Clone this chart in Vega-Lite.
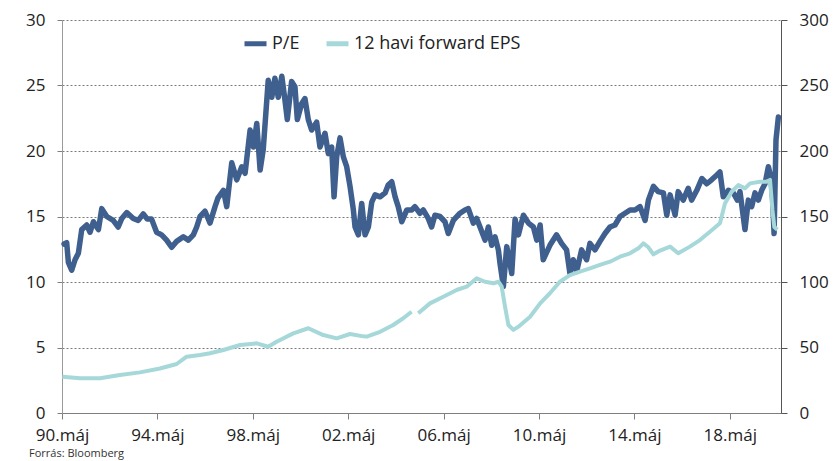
{
  "$schema": "https://vega.github.io/schema/vega-lite/v6.json",
  "autosize": "none",
  "width": 719,
  "height": 393,
  "padding": {"left": 62, "top": 20, "right": 55, "bottom": 48},
  "background": "white",
  "config": {
    "view": {"stroke": null},
    "font": "Open Sans",
    "axis": {"labelFont": "Open Sans", "labelFontSize": 17, "labelColor": "#222", "titleFont": "Open Sans"},
    "legend": {"labelFont": "Open Sans"}
  },
  "title": {
    "text": "Forrás: Bloomberg",
    "orient": "bottom",
    "anchor": "start",
    "frame": "group",
    "dx": -33,
    "offset": 5,
    "fontSize": 11,
    "fontWeight": "normal",
    "color": "#333",
    "font": "Open Sans"
  },
  "datasets": {
    "pe": [
      {"year": 1990.42, "pe": 12.9}, {"year": 1990.53, "pe": 13.0}, {"year": 1990.60, "pe": 11.5}, {"year": 1990.74, "pe": 10.9},
      {"year": 1990.88, "pe": 11.7}, {"year": 1991.02, "pe": 12.2}, {"year": 1991.16, "pe": 14.0}, {"year": 1991.37, "pe": 14.35},
      {"year": 1991.51, "pe": 13.8}, {"year": 1991.65, "pe": 14.6}, {"year": 1991.86, "pe": 14.0}, {"year": 1992.00, "pe": 15.6},
      {"year": 1992.21, "pe": 15.0}, {"year": 1992.48, "pe": 14.7}, {"year": 1992.69, "pe": 14.2}, {"year": 1992.84, "pe": 14.85},
      {"year": 1993.05, "pe": 15.3}, {"year": 1993.32, "pe": 14.85}, {"year": 1993.53, "pe": 14.7}, {"year": 1993.74, "pe": 15.2},
      {"year": 1993.91, "pe": 14.8}, {"year": 1994.09, "pe": 14.8}, {"year": 1994.30, "pe": 13.8}, {"year": 1994.51, "pe": 13.6},
      {"year": 1994.72, "pe": 13.2}, {"year": 1994.93, "pe": 12.65}, {"year": 1995.14, "pe": 13.1}, {"year": 1995.42, "pe": 13.45},
      {"year": 1995.63, "pe": 13.2}, {"year": 1995.84, "pe": 13.6}, {"year": 1995.98, "pe": 14.2}, {"year": 1996.12, "pe": 15.0},
      {"year": 1996.33, "pe": 15.4}, {"year": 1996.54, "pe": 14.5}, {"year": 1996.75, "pe": 15.75}, {"year": 1996.87, "pe": 16.4},
      {"year": 1997.10, "pe": 17.0}, {"year": 1997.24, "pe": 15.75}, {"year": 1997.45, "pe": 19.1}, {"year": 1997.66, "pe": 17.8},
      {"year": 1997.87, "pe": 18.8}, {"year": 1998.01, "pe": 18.3}, {"year": 1998.22, "pe": 21.6}, {"year": 1998.36, "pe": 20.3},
      {"year": 1998.50, "pe": 22.1}, {"year": 1998.64, "pe": 18.55}, {"year": 1998.77, "pe": 20.1}, {"year": 1998.98, "pe": 25.4},
      {"year": 1999.13, "pe": 24.1}, {"year": 1999.26, "pe": 25.55}, {"year": 1999.40, "pe": 24.1}, {"year": 1999.55, "pe": 25.7},
      {"year": 1999.68, "pe": 23.9}, {"year": 1999.78, "pe": 22.4}, {"year": 1999.96, "pe": 25.3}, {"year": 2000.10, "pe": 24.9},
      {"year": 2000.20, "pe": 22.4}, {"year": 2000.38, "pe": 23.6}, {"year": 2000.52, "pe": 24.0}, {"year": 2000.66, "pe": 22.4},
      {"year": 2000.80, "pe": 21.6}, {"year": 2001.01, "pe": 22.2}, {"year": 2001.15, "pe": 20.3}, {"year": 2001.36, "pe": 21.35},
      {"year": 2001.50, "pe": 19.8}, {"year": 2001.64, "pe": 20.3}, {"year": 2001.74, "pe": 16.5}, {"year": 2001.85, "pe": 19.55},
      {"year": 2001.99, "pe": 21.0}, {"year": 2002.13, "pe": 19.55}, {"year": 2002.27, "pe": 18.8}, {"year": 2002.41, "pe": 17.3},
      {"year": 2002.55, "pe": 15.5}, {"year": 2002.62, "pe": 14.2}, {"year": 2002.76, "pe": 13.6}, {"year": 2002.90, "pe": 16.0},
      {"year": 2003.04, "pe": 13.6}, {"year": 2003.18, "pe": 14.2}, {"year": 2003.32, "pe": 16.1}, {"year": 2003.46, "pe": 16.65},
      {"year": 2003.67, "pe": 16.5}, {"year": 2003.88, "pe": 16.8}, {"year": 2004.01, "pe": 17.4}, {"year": 2004.16, "pe": 17.65},
      {"year": 2004.30, "pe": 16.5}, {"year": 2004.43, "pe": 15.75}, {"year": 2004.58, "pe": 14.6}, {"year": 2004.79, "pe": 15.5},
      {"year": 2005.00, "pe": 15.5}, {"year": 2005.13, "pe": 15.75}, {"year": 2005.34, "pe": 15.25}, {"year": 2005.48, "pe": 15.5},
      {"year": 2005.69, "pe": 14.85}, {"year": 2005.83, "pe": 14.2}, {"year": 2005.97, "pe": 15.1}, {"year": 2006.18, "pe": 15.0},
      {"year": 2006.39, "pe": 14.6}, {"year": 2006.53, "pe": 13.7}, {"year": 2006.74, "pe": 14.7}, {"year": 2007.02, "pe": 15.25},
      {"year": 2007.23, "pe": 15.5}, {"year": 2007.37, "pe": 15.6}, {"year": 2007.58, "pe": 14.5}, {"year": 2007.72, "pe": 14.85},
      {"year": 2007.86, "pe": 14.2}, {"year": 2008.07, "pe": 13.2}, {"year": 2008.21, "pe": 14.2}, {"year": 2008.35, "pe": 12.8},
      {"year": 2008.49, "pe": 13.45}, {"year": 2008.63, "pe": 12.45}, {"year": 2008.70, "pe": 11.4}, {"year": 2008.84, "pe": 9.65},
      {"year": 2008.98, "pe": 12.7}, {"year": 2009.09, "pe": 11.7}, {"year": 2009.19, "pe": 10.65}, {"year": 2009.33, "pe": 14.8},
      {"year": 2009.47, "pe": 13.6}, {"year": 2009.68, "pe": 15.1}, {"year": 2009.89, "pe": 14.5}, {"year": 2010.10, "pe": 14.2},
      {"year": 2010.24, "pe": 13.2}, {"year": 2010.38, "pe": 14.35}, {"year": 2010.51, "pe": 11.7}, {"year": 2010.79, "pe": 12.8},
      {"year": 2011.07, "pe": 13.6}, {"year": 2011.28, "pe": 12.95}, {"year": 2011.49, "pe": 12.45}, {"year": 2011.63, "pe": 10.65},
      {"year": 2011.77, "pe": 11.7}, {"year": 2011.91, "pe": 10.8}, {"year": 2012.12, "pe": 12.45}, {"year": 2012.33, "pe": 11.7},
      {"year": 2012.47, "pe": 12.95}, {"year": 2012.68, "pe": 12.45}, {"year": 2012.89, "pe": 13.1}, {"year": 2013.10, "pe": 13.7},
      {"year": 2013.31, "pe": 14.2}, {"year": 2013.52, "pe": 14.35}, {"year": 2013.73, "pe": 15.0}, {"year": 2013.94, "pe": 15.25},
      {"year": 2014.15, "pe": 15.5}, {"year": 2014.36, "pe": 15.5}, {"year": 2014.57, "pe": 15.75}, {"year": 2014.78, "pe": 14.7},
      {"year": 2014.92, "pe": 16.25}, {"year": 2015.13, "pe": 17.3}, {"year": 2015.33, "pe": 16.9}, {"year": 2015.55, "pe": 16.8},
      {"year": 2015.69, "pe": 15.1}, {"year": 2015.83, "pe": 16.65}, {"year": 2016.04, "pe": 15.1}, {"year": 2016.17, "pe": 16.9},
      {"year": 2016.38, "pe": 16.25}, {"year": 2016.59, "pe": 17.15}, {"year": 2016.73, "pe": 16.25}, {"year": 2016.95, "pe": 17.0},
      {"year": 2017.16, "pe": 17.9}, {"year": 2017.37, "pe": 17.5}, {"year": 2017.57, "pe": 17.8}, {"year": 2017.78, "pe": 18.15},
      {"year": 2017.92, "pe": 18.4}, {"year": 2018.06, "pe": 16.5}, {"year": 2018.27, "pe": 17.0}, {"year": 2018.48, "pe": 16.8},
      {"year": 2018.65, "pe": 16.25}, {"year": 2018.76, "pe": 16.9}, {"year": 2018.97, "pe": 14.0}, {"year": 2019.11, "pe": 16.25},
      {"year": 2019.25, "pe": 15.75}, {"year": 2019.39, "pe": 16.8}, {"year": 2019.53, "pe": 16.25}, {"year": 2019.67, "pe": 17.0},
      {"year": 2019.81, "pe": 17.5}, {"year": 2019.95, "pe": 18.8}, {"year": 2020.05, "pe": 18.05}, {"year": 2020.13, "pe": 16.25},
      {"year": 2020.19, "pe": 13.7}, {"year": 2020.27, "pe": 20.85}, {"year": 2020.37, "pe": 22.6}
    ],
    "eps": [
      {"year": 1990.35, "eps": 27.7}, {"year": 1991.09, "eps": 26.5}, {"year": 1991.93, "eps": 26.5}, {"year": 1992.76, "eps": 29},
      {"year": 1993.60, "eps": 31}, {"year": 1994.44, "eps": 34}, {"year": 1995.14, "eps": 37.4}, {"year": 1995.56, "eps": 43},
      {"year": 1996.12, "eps": 44.3}, {"year": 1996.54, "eps": 45.6}, {"year": 1997.10, "eps": 48.1}, {"year": 1997.80, "eps": 51.9},
      {"year": 1998.50, "eps": 53.2}, {"year": 1998.98, "eps": 50.6}, {"year": 1999.33, "eps": 54.4}, {"year": 2000.03, "eps": 60.8},
      {"year": 2000.66, "eps": 64.7}, {"year": 2001.29, "eps": 59.5}, {"year": 2001.85, "eps": 57}, {"year": 2002.41, "eps": 60.3},
      {"year": 2002.97, "eps": 58.5}, {"year": 2003.11, "eps": 58.3}, {"year": 2003.67, "eps": 62}, {"year": 2004.22, "eps": 67.2},
      {"year": 2004.64, "eps": 72.3}, {"year": 2004.99, "eps": 77.3}, {"year": 2005.10, "eps": null}, {"year": 2005.27, "eps": 76.1},
      {"year": 2005.76, "eps": 83.7}, {"year": 2006.32, "eps": 88.8}, {"year": 2006.88, "eps": 93.9}, {"year": 2007.30, "eps": 96.4},
      {"year": 2007.72, "eps": 102.8}, {"year": 2008.07, "eps": 100.2}, {"year": 2008.42, "eps": 99}, {"year": 2008.63, "eps": 100.2},
      {"year": 2008.77, "eps": 96.4}, {"year": 2008.91, "eps": 81}, {"year": 2009.05, "eps": 67.2}, {"year": 2009.26, "eps": 63.4},
      {"year": 2009.47, "eps": 65.9}, {"year": 2009.96, "eps": 73.5}, {"year": 2010.38, "eps": 83.7}, {"year": 2010.79, "eps": 91.4},
      {"year": 2011.21, "eps": 100.2}, {"year": 2011.63, "eps": 105.3}, {"year": 2012.05, "eps": 107.9}, {"year": 2012.47, "eps": 110.4},
      {"year": 2012.89, "eps": 113}, {"year": 2013.31, "eps": 115.5}, {"year": 2013.73, "eps": 119.3}, {"year": 2014.15, "eps": 121.9},
      {"year": 2014.50, "eps": 125.7}, {"year": 2014.71, "eps": 129.5}, {"year": 2014.92, "eps": 126.5}, {"year": 2015.13, "eps": 121.1},
      {"year": 2015.41, "eps": 124}, {"year": 2015.83, "eps": 127}, {"year": 2016.17, "eps": 121.9}, {"year": 2016.66, "eps": 127},
      {"year": 2017.08, "eps": 132}, {"year": 2017.50, "eps": 138.4}, {"year": 2017.92, "eps": 144.8}, {"year": 2018.13, "eps": 160},
      {"year": 2018.41, "eps": 168.9}, {"year": 2018.69, "eps": 174}, {"year": 2018.97, "eps": 171.5}, {"year": 2019.18, "eps": 175.3},
      {"year": 2019.60, "eps": 176.6}, {"year": 2019.88, "eps": 176.6}, {"year": 2020.02, "eps": 177.9}, {"year": 2020.12, "eps": 155},
      {"year": 2020.20, "eps": 142}, {"year": 2020.33, "eps": 140}
    ]
  },
  "layer": [
    {
      "data": {"name": "pe"},
      "mark": {"type": "line", "strokeWidth": 5.5, "strokeJoin": "round", "strokeCap": "round"},
      "encoding": {
        "x": {
          "field": "year", "type": "quantitative",
          "scale": {"domain": [1990.333, 2020.48], "nice": false, "zero": false},
          "axis": {
            "title": null,
            "values": [1990.333, 1994.333, 1998.333, 2002.333, 2006.333, 2010.333, 2014.333, 2018.333],
            "labelExpr": "format(floor(datum.value) % 100, '02d') + '.máj'",
            "grid": false,
            "domainColor": "#7f7f7f",
            "tickColor": "#7f7f7f",
            "tickSize": 6,
            "labelPadding": 8,
            "labelFlush": false,
            "labelOverlap": false
          }
        },
        "y": {
          "field": "pe", "type": "quantitative",
          "scale": {"domain": [0, 30], "nice": false},
          "axis": {
            "title": null,
            "orient": "left",
            "values": [0, 5, 10, 15, 20, 25, 30],
            "grid": true,
            "gridColor": "#7a7a7a",
            "gridDash": [2, 2],
            "gridWidth": 1,
            "domainColor": "#9a9a9a",
            "tickColor": "#7f7f7f",
            "tickSize": 5,
            "labelPadding": 12
          }
        },
        "color": {
          "datum": "P/E",
          "type": "nominal",
          "scale": {"domain": ["P/E", "12 havi forward EPS"], "range": ["#3f5f8e", "#a6d8d9"]},
          "legend": {
            "title": null,
            "orient": "none",
            "legendX": 180,
            "legendY": 10,
            "direction": "horizontal",
            "symbolType": "stroke",
            "symbolSize": 484,
            "symbolStrokeWidth": 5,
            "labelFontSize": 18,
            "labelLimit": 400,
            "labelColor": "#222",
            "labelOffset": 3,
            "columnPadding": 16
          }
        }
      }
    },
    {
      "data": {"name": "eps"},
      "mark": {"type": "line", "strokeWidth": 4, "strokeJoin": "round", "strokeCap": "butt", "invalid": "break-paths-show-domains"},
      "encoding": {
        "x": {"field": "year", "type": "quantitative"},
        "y": {
          "field": "eps", "type": "quantitative",
          "scale": {"domain": [0, 300], "nice": false},
          "axis": {
            "title": null,
            "orient": "right",
            "values": [0, 50, 100, 150, 200, 250, 300],
            "grid": false,
            "domainColor": "#555555",
            "tickColor": "#555555",
            "tickSize": 6,
            "labelPadding": 12
          }
        },
        "color": {"datum": "12 havi forward EPS", "type": "nominal"}
      }
    }
  ],
  "resolve": {"scale": {"y": "independent"}}
}
